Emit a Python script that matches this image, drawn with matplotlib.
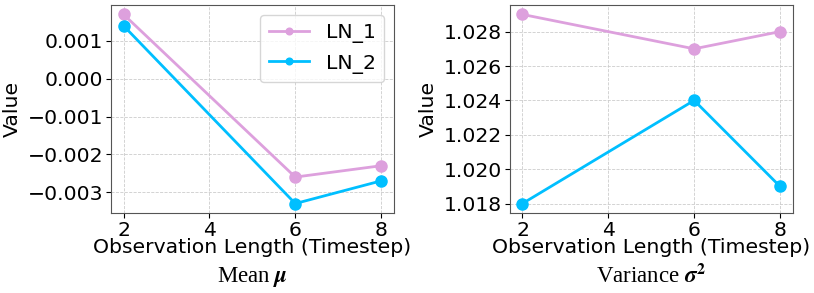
import matplotlib
matplotlib.use('Agg')
from matplotlib import pyplot as plt
from matplotlib.ticker import MultipleLocator, FuncFormatter

steps = [2, 6, 8]
mean_ln1 = [0.0017, -0.0026, -0.0023]
mean_ln2 = [0.0014, -0.0033, -0.0027]
var_ln1 = [1.029, 1.027, 1.028]
var_ln2 = [1.018, 1.024, 1.019]
captions = [r'Mean $\mathbfit{\mu}$', r'Variance $\mathbfit{\sigma}^{\mathbf{2}}$']
ysteps = [0.001, 0.002]

fs = 14.7
fig = plt.figure(figsize=(8.14, 2.93), dpi=100)
ax1 = fig.add_axes([0.136, 0.273, 0.348, 0.710])
ax2 = fig.add_axes([0.626, 0.273, 0.348, 0.710])

fmt = FuncFormatter(lambda v, p: f'{v:.3f}'.replace('-', '\u2212'))

for ax, l1, l2, cap, st in [(ax1, mean_ln1, mean_ln2, captions[0], ysteps[0]),
                            (ax2, var_ln1, var_ln2, captions[1], ysteps[1])]:
    ax.plot(steps, l1, color='plum', marker='o', markersize=8, linewidth=2, label='LN_1')
    ax.plot(steps, l2, color='deepskyblue', marker='o', markersize=8, linewidth=2, label='LN_2')
    ax.set_xticks([2, 4, 6, 8])
    ax.yaxis.set_major_locator(MultipleLocator(st))
    ax.yaxis.set_major_formatter(fmt)
    ax.grid(True, linestyle='--', linewidth=0.6, color='#cccccc')
    ax.tick_params(labelsize=fs, pad=2)
    ax.set_xlabel('Observation Length (Timestep)', fontsize=fs, labelpad=-1)
    ax.set_ylabel('Value', fontsize=fs, labelpad=4)
    for s in ax.spines.values():
        s.set_color('#555555')
    ax.text(0.5, -0.25, cap, transform=ax.transAxes, ha='center', va='top',
            fontsize=16.5, family='Liberation Serif', math_fontfamily='stix')

ax1.legend(loc='upper right', fontsize=fs, markerscale=0.6)

fig.savefig('out.png', dpi=100)
